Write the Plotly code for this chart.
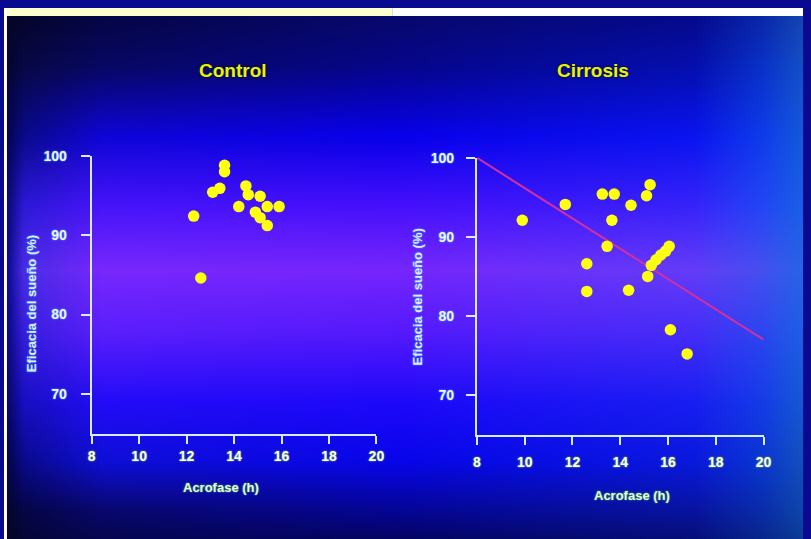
import base64
import struct
import zlib

import numpy as np
import plotly.graph_objects as go

# ---------------- data ----------------
control_x = [13.6, 13.6, 13.4, 13.1, 14.5, 14.6, 15.1, 14.2, 15.4, 15.9, 14.9, 15.1, 15.4, 12.3, 12.6]
control_y = [98.8, 98.0, 95.9, 95.4, 96.2, 95.1, 94.9, 93.6, 93.6, 93.6, 92.9, 92.2, 91.2, 92.4, 84.6]

cirrosis_x = [9.9, 11.7, 13.25, 13.75, 13.65, 14.45, 15.1, 15.25, 13.45, 12.6, 12.6,
              14.35, 15.15, 15.3, 15.5, 15.7, 15.9, 16.05, 16.1, 16.8]
cirrosis_y = [92.1, 94.1, 95.4, 95.4, 92.1, 94.0, 95.2, 96.6, 88.8, 86.6, 83.1,
              83.25, 85.0, 86.4, 87.1, 87.7, 88.2, 88.8, 78.25, 75.2]

fit_x = [8, 20]
fit_y = [100, 77]

x_ticks = [8, 10, 12, 14, 16, 18, 20]
y_ticks = [70, 80, 90, 100]

panel_titles = ["Control", "Cirrosis"]
x_title = "Acrofase (h)"
y_title = "Eficacia del sueño (%)"

# ---------------- background (slide photo gradient) ----------------
W, H = 811, 539
bg_xs = [4, 20, 100, 400, 700, 770, 811]
bg_ys = [10, 60, 130, 200, 265, 330, 400, 460, 510, 539]
bg_cols = [
    [(5, 5, 40), (5, 5, 45), (5, 5, 70), (8, 8, 110), (5, 10, 140), (10, 40, 170), (20, 70, 180)],
    [(5, 5, 50), (8, 8, 70), (8, 8, 100), (6, 6, 140), (5, 15, 175), (10, 50, 200), (20, 80, 200)],
    [(5, 5, 80), (10, 10, 140), (15, 5, 215), (8, 0, 235), (10, 20, 240), (15, 60, 235), (20, 90, 220)],
    [(10, 10, 120), (45, 25, 215), (70, 20, 250), (70, 15, 252), (55, 35, 250), (35, 70, 245), (25, 95, 230)],
    [(12, 10, 150), (75, 45, 230), (120, 40, 252), (118, 38, 252), (100, 60, 248), (70, 80, 240), (40, 100, 230)],
    [(10, 10, 135), (55, 30, 222), (90, 30, 252), (85, 25, 252), (70, 45, 248), (45, 70, 240), (30, 95, 230)],
    [(8, 8, 105), (25, 15, 195), (35, 12, 248), (30, 8, 250), (25, 30, 242), (22, 60, 232), (20, 90, 212)],
    [(5, 5, 70), (10, 10, 140), (15, 15, 215), (8, 5, 235), (10, 25, 222), (10, 55, 210), (20, 80, 190)],
    [(5, 5, 45), (5, 5, 70), (8, 8, 110), (5, 5, 150), (8, 20, 160), (10, 45, 170), (15, 70, 170)],
    [(5, 5, 35), (5, 5, 55), (6, 6, 80), (4, 4, 100), (6, 15, 120), (8, 40, 140), (12, 60, 150)],
]


def build_background(gw=406, gh=270):
    cols = np.array(bg_cols, dtype=float)
    px = (np.arange(gw) + 0.5) * W / gw
    py = (np.arange(gh) + 0.5) * H / gh
    rows = np.zeros((len(bg_ys), gw, 3))
    for r in range(len(bg_ys)):
        for c in range(3):
            rows[r, :, c] = np.interp(px, bg_xs, cols[r, :, c])
    img = np.zeros((gh, gw, 3))
    for i in range(gw):
        for c in range(3):
            img[:, i, c] = np.interp(py, bg_ys, rows[:, i, c])
    return np.clip(img, 0, 255).astype(np.uint8)


def png_uri(img):
    h, w, _ = img.shape
    raw = b"".join(b"\x00" + img[r].tobytes() for r in range(h))

    def chunk(tag, data):
        c = struct.pack(">I", len(data)) + tag + data
        return c + struct.pack(">I", zlib.crc32(tag + data) & 0xFFFFFFFF)

    png = (b"\x89PNG\r\n\x1a\n"
           + chunk(b"IHDR", struct.pack(">IIBBBBB", w, h, 8, 2, 0, 0, 0))
           + chunk(b"IDAT", zlib.compress(raw, 9))
           + chunk(b"IEND", b""))
    return "data:image/png;base64," + base64.b64encode(png).decode()


bg_uri = png_uri(build_background())

# ---------------- figure ----------------
FONT = "Liberation Sans, Arial, sans-serif"
AXIS_COL = "#d8ecff"
DOT_COL = "#ffff10"

fig = go.Figure()

fig.add_trace(go.Scatter(x=control_x, y=control_y, mode="markers",
                         marker=dict(size=11.5, color=DOT_COL, line=dict(width=0)),
                         xaxis="x", yaxis="y", showlegend=False, hoverinfo="x+y"))
fig.add_trace(go.Scatter(x=fit_x, y=fit_y, mode="lines",
                         line=dict(color="#d030a0", width=2),
                         xaxis="x2", yaxis="y2", showlegend=False, hoverinfo="skip"))
fig.add_trace(go.Scatter(x=cirrosis_x, y=cirrosis_y, mode="markers",
                         marker=dict(size=11.5, color=DOT_COL, line=dict(width=0)),
                         xaxis="x2", yaxis="y2", showlegend=False, hoverinfo="x+y"))

tick_font_y = dict(family=FONT, size=14, color="#eaf6ff", weight="bold", shadow="0px 0px 2px #50b8ff")
tick_font_x = dict(family=FONT, size=14, color="#f4ffe8", weight="bold", shadow="0px 0px 2px #90d040")

common = dict(showgrid=False, zeroline=False, showline=True, linecolor=AXIS_COL, linewidth=2,
              ticks="outside", tickcolor=AXIS_COL, tickwidth=2, fixedrange=True)


def xax(domain, anchor, standoff):
    return dict(common, domain=domain, anchor=anchor, range=[8, 20], tickvals=x_ticks,
                ticktext=[str(v) for v in x_ticks], ticklen=8, tickfont=tick_font_x,
                ticklabelstandoff=standoff)


def yax(domain, anchor, standoff):
    return dict(common, domain=domain, anchor=anchor, range=[65, 100], tickvals=y_ticks,
                ticktext=[str(v) for v in y_ticks], ticklen=9, tickfont=tick_font_y,
                ticklabelstandoff=standoff)


fig.update_layout(
    width=W, height=H,
    margin=dict(l=0, r=0, t=0, b=0),
    paper_bgcolor="#0a0a90",
    plot_bgcolor="rgba(0,0,0,0)",
    xaxis=xax([89 / W, 378 / W], "y", 1),
    yaxis=yax([1 - 432 / H, 1 - 150 / H], "x", 11),
    xaxis2=xax([480 / W, 771 / W], "y2", 6),
    yaxis2=yax([1 - 433 / H, 1 - 152 / H], "x2", 9),
    images=[dict(source=bg_uri, xref="paper", yref="paper", x=0, y=1, sizex=1, sizey=1,
                 sizing="stretch", xanchor="left", yanchor="top", layer="below")],
    shapes=[
        dict(type="rect", xref="paper", yref="paper", x0=0, x1=394 / W, y0=1 - 8 / H, y1=1,
             fillcolor="#ffffcc", line=dict(width=0), layer="above"),
        dict(type="rect", xref="paper", yref="paper", x0=394 / W, x1=1, y0=1 - 8 / H, y1=1,
             fillcolor="#ffffff", line=dict(width=0), layer="above"),
        dict(type="rect", xref="paper", yref="paper", x0=0, x1=3 / W, y0=0, y1=1,
             fillcolor="#ffffff", line=dict(width=0), layer="above"),
    ],
    showlegend=False,
)

title_font = dict(family=FONT, size=19, color="#eef200", weight="bold", shadow="0px 0px 3px #001800")
ytitle_font = dict(family=FONT, size=13, color="#d8ecff", weight="bold", shadow="0px 0px 2px #40a8ff")
xtitle_font = dict(family=FONT, size=13, color="#d8ffd8", weight="bold", shadow="0px 0px 2px #70c040")

annotations = [
    dict(text=panel_titles[0], x=232 / W, y=1 - 63 / H, font=title_font),
    dict(text=panel_titles[1], x=598 / W, y=1 - 63 / H, font=title_font),
    dict(text=x_title, x=220 / W, y=1 - 487 / H, font=xtitle_font),
    dict(text=x_title, x=637 / W, y=1 - 495 / H, font=xtitle_font),
    dict(text=y_title, x=28 / W, y=1 - 300 / H, font=ytitle_font, textangle=-90),
    dict(text=y_title, x=420 / W, y=1 - 293 / H, font=ytitle_font, textangle=-90),
]
for a in annotations:
    a.update(xref="paper", yref="paper", showarrow=False, xanchor="center", yanchor="middle")
fig.update_layout(annotations=annotations)

fig.write_html("out.html", config={"displayModeBar": False},
               post_script="document.body.style.margin='0';document.body.style.overflow='hidden';")
